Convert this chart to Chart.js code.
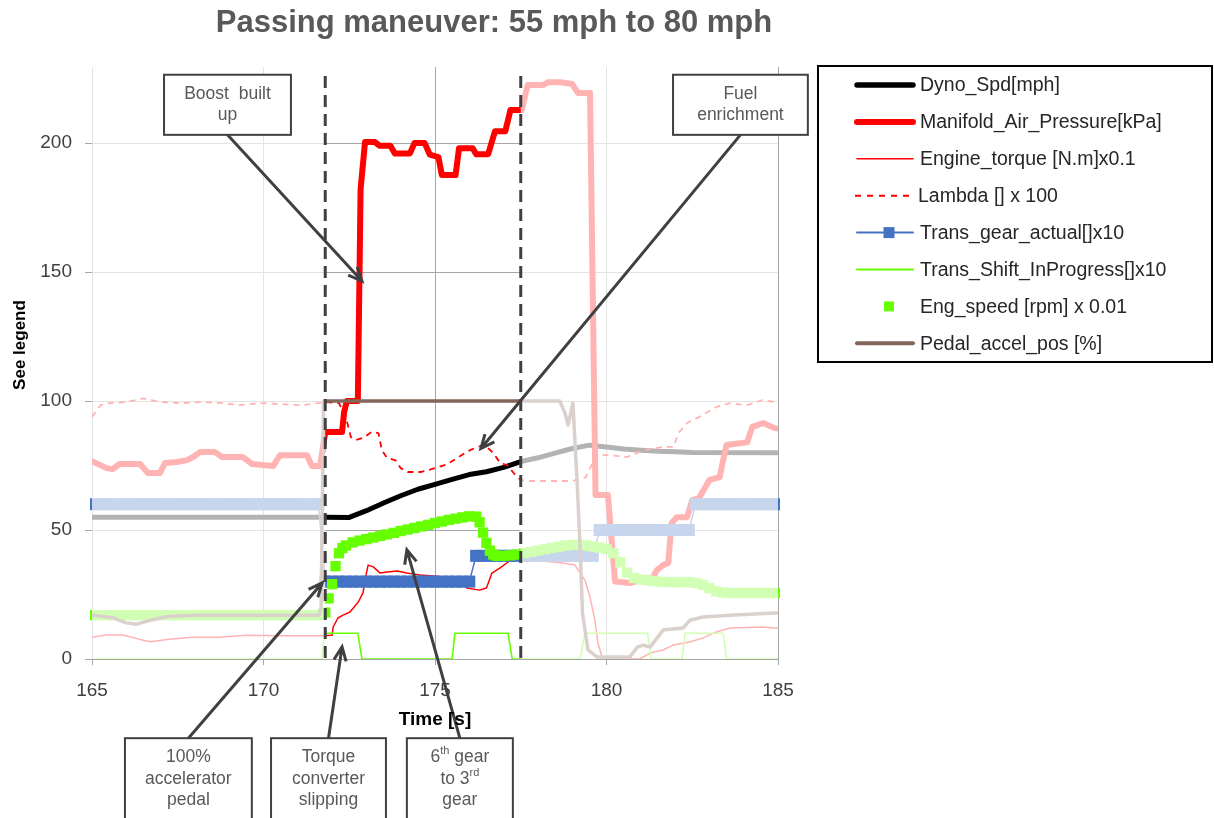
<!DOCTYPE html>
<html>
<head>
<meta charset="utf-8">
<title>Passing maneuver: 55 mph to 80 mph</title>
<script src="https://cdn.jsdelivr.net/npm/chart.js@4.4.1/dist/chart.umd.min.js"></script>
<style>
  html, body { margin: 0; padding: 0; background: #fff; }
  canvas { display: block; }
</style>
</head>
<body>
<canvas id="passChart" width="1214" height="818"></canvas>
<script>
// ---- data ----
const chartTitle = 'Passing maneuver: 55 mph to 80 mph';
const seriesNames = [
    'Dyno_Spd[mph]',
    'Manifold_Air_Pressure[kPa]',
    'Engine_torque [N.m]x0.1',
    'Lambda [] x 100',
    'Trans_gear_actual[]x10',
    'Trans_Shift_InProgress[]x10',
    'Eng_speed [rpm] x 0.01',
    'Pedal_accel_pos [%]'
];
const yTicks = [0, 50, 100, 150, 200];
const windowStart = 171.8;   // highlighted part of the run
const windowEnd = 177.5;

const dynoTime = [165, 171.8, 172.5, 173, 173.5, 174, 174.5, 175, 175.5, 176, 176.5, 177, 177.5,
    178, 178.5, 179, 179.5, 180, 180.5, 181, 181.5, 182, 182.5, 185];
const dynoSpd = [55, 55, 54.9, 57.5, 60.5, 63.3, 65.8, 67.7, 69.6, 71.5, 72.6, 74.3, 76.5,
    78, 79.8, 81.6, 82.9, 82.2, 81.4, 80.9, 80.5, 80.3, 80.1, 80];

const mapTime = [165, 165.43, 165.6, 165.8, 166.4, 166.63, 166.98, 167.13, 167.47, 167.77, 167.95, 168.15,
    168.59, 168.79, 169.4, 169.66, 170.28, 170.48, 171.27, 171.41, 171.65, 171.8, 172.29, 172.35, 172.43,
    172.75, 172.8, 172.83, 172.96, 173.25, 173.38, 173.7, 173.83, 174.27, 174.4, 174.7, 174.85, 175.1,
    175.2, 175.6, 175.7, 176.1, 176.2, 176.55, 176.75, 177.05, 177.2, 177.53, 177.7, 178.15, 178.3,
    178.65, 179.0, 179.17, 179.52, 179.68, 180.04, 180.25, 180.7, 181.36, 181.47, 181.65, 181.8, 181.9,
    182.05, 182.35, 182.5, 182.7, 183.0, 183.3, 183.4, 183.5, 184.1, 184.25, 184.57, 184.9, 185];
const mapKpa = [76.7, 74, 73.6, 75.6, 75.6, 72.1, 72.1, 76, 76.4, 77.1, 78.3, 80.2,
    80.2, 78.3, 78.3, 75.6, 74.8, 79, 79, 74.8, 74.8, 88, 88, 95.7, 100,
    100, 150, 182, 200.4, 200.4, 199, 199, 196, 196, 200, 200, 195.5, 194.6,
    187.6, 187.6, 198, 198, 195.7, 195.7, 204.6, 204.6, 212.8, 212.8, 222.5, 222.5, 223.6,
    223.6, 222.9, 219.4, 219.4, 63.6, 63.6, 30, 29.5, 31.8, 34.5, 36.4, 37.2, 52.7,
    55, 55, 61.6, 62.4, 69.4, 70.5, 77, 83, 84, 90, 91.5, 89.5, 89.3];

const torqueTime = [165, 165.4, 165.9, 166.4, 166.7, 167.2, 167.9, 168.7, 169.5, 170.5, 171.65, 172.0,
    172.03, 172.17, 172.32, 172.52, 172.76, 172.9, 173.0, 173.05, 173.2, 173.4, 173.6, 173.9, 174.18,
    174.56, 174.94, 175.4, 175.82, 175.93, 176.3, 176.5, 176.66, 176.9, 177.13, 177.33, 177.48, 177.77,
    178.73, 179.08, 179.37, 179.52, 179.66, 179.75, 179.87, 180.0, 180.97, 181.27, 181.65, 181.94,
    182.43, 182.8, 183.2, 183.6, 184.56, 184.9, 185];
const torque = [8.4, 9.3, 9.3, 7.6, 6.7, 7.6, 8.4, 8.4, 9.2, 9, 9, 9.2,
    12.4, 15.9, 17, 18.2, 22, 25.6, 33.3, 36.4, 35.7, 33.3, 33.7, 34.1, 33.3,
    32.6, 32.2, 31.6, 30.6, 27.5, 26.7, 27.5, 33.3, 35.3, 37.6, 39.5, 40.3, 38.5,
    37.2, 36.4, 30.6, 24, 15, 6.2, 0.8, 0, 0, 2.3, 3.5, 5.4,
    6.6, 8.1, 10.5, 12, 12.4, 12, 12];

const lambdaTime = [165, 165.25, 165.5, 166.0, 166.5, 167.0, 167.6, 168.2, 168.8, 169.3, 169.9, 170.5,
    171.1, 171.6, 171.8, 172.2, 172.4, 172.55, 172.7, 172.9, 173.15, 173.35, 173.45, 173.6, 173.85,
    174.0, 174.2, 174.6, 175.0, 175.35, 175.6, 175.95, 176.2, 176.45, 176.7, 176.9, 177.1, 177.3, 177.5,
    177.8, 179.0, 179.4, 179.7, 180.1, 180.6, 181.1, 181.65, 181.95, 182.1, 182.35, 182.7, 183.2,
    183.6, 184.1, 184.55, 184.9, 185];
const lambda = [93.8, 98.4, 99.2, 99.6, 101, 99.6, 99.2, 99.6, 99.2, 98.4, 99.2, 98.8,
    98.4, 99.2, 99.6, 99.2, 93.8, 86, 84.9, 85.7, 88, 87.6, 81, 78, 77,
    74, 72.5, 72.5, 74, 75.5, 77.5, 80.5, 82, 83, 79.8, 76, 75.2, 72, 69.4,
    69, 69, 70.5, 79, 79, 78.3, 81, 82.2, 82.2, 87.6, 91.5, 93.8, 97.7,
    99.2, 98.4, 100.4, 99.6, 99.6];

// logged every 0.2 s
const gearTime = sampleTimes(165, 185, 0.2);
const gearActual = [
    60, 60, 60, 60, 60, 60, 60, 60, 60, 60, 60, 60, 60, 60, 60, 60, 60,
    60, 60, 60, 60, 60, 60, 60, 60, 60, 60, 60, 60, 60, 60, 60, 60, 60,
    30, 30, 30, 30, 30, 30, 30, 30, 30, 30, 30, 30, 30, 30, 30, 30, 30, 30, 30, 30, 30, 30,
    40, 40, 40, 40, 40, 40, 40, 40, 40, 40, 40, 40, 40, 40, 40, 40, 40, 40,
    50, 50, 50, 50, 50, 50, 50, 50, 50, 50, 50, 50, 50, 50,
    60, 60, 60, 60, 60, 60, 60, 60, 60, 60, 60, 60, 60
];

const shiftTime = [165, 171.7, 171.78, 172.75, 172.87, 175.5, 175.58, 177.13, 177.25, 179.23, 179.37,
    181.2, 181.3, 182.2, 182.29, 183.4, 183.5, 185];
const shiftFlag = [0, 0, 10, 10, 0, 0, 10, 10, 0, 0, 10, 10, 0, 0, 10, 10, 0, 0];

// engine speed samples, denser where it moves quickly
const engTime = [
    ...sampleTimes(165, 171.6, 0.2),
    ...sampleTimes(171.7, 172.4, 0.1),
    ...sampleTimes(172.6, 176.2, 0.2),
    ...sampleTimes(176.3, 176.7, 0.1),
    ...sampleTimes(176.8, 185, 0.2)
];
const engSpeed = [
    17, 17, 17, 17, 17, 17, 17, 17, 17, 17, 17, 17, 17, 17, 17, 17, 17,
    17, 17, 17, 17, 17, 17, 17, 17, 17, 17, 17, 17, 17, 17, 17, 17, 17,
    17.5, 18, 23.5, 29, 36, 41, 43, 44,
    45.2, 45.9, 46.5, 47.1, 47.7, 48.3, 48.9, 49.6, 50.2, 50.8, 51.4, 52, 52.7, 53.3, 53.9, 54.4, 54.9, 55.3, 55.2,
    53, 49, 45, 42, 40.5,
    40, 40, 40.2, 40.5, 41, 41.5, 42, 42.5, 43, 43.5, 44, 44.2, 44.3, 44, 43.6, 43.2, 42.6, 41, 37.5, 33.5,
    31.4, 30.8, 30.5, 30.2, 29.9, 29.8, 29.8, 29.8, 29.8, 29.5, 28.7, 27.5, 26.2, 25.8, 25.6, 25.6,
    25.6, 25.6, 25.6, 25.6, 25.6, 25.6
];

const pedalTime = [165, 165.6, 166.0, 166.3, 166.7, 167.2, 168, 171.62, 171.68, 171.75, 178.64, 178.79,
    178.88, 179.02, 179.14, 179.23, 179.3, 179.46, 179.72, 180.68, 180.9, 181.07, 181.27, 181.65,
    182.23, 182.43, 182.81, 183.6, 184.9, 185];
const pedalPos = [17, 16, 14, 13.5, 15, 16.5, 17, 17, 20, 100, 100, 95.3,
    90.7, 99.2, 69.4, 43.4, 17.8, 3.5, 0.8, 0.8, 4.6, 5.4, 4.6, 11.2,
    12, 15, 16.3, 17, 17.8, 17.8];

// callout boxes: box = [t0, t1, yTop, yBottom] in axis units, arrow points at tip
const callouts = [
    { lines: [['Boost  built'], ['up']], box: [167.1, 170.8, 226.5, 203.2], tip: [172.87, 146.5] },
    { lines: [['Fuel'], ['enrichment']], box: [181.94, 185.87, 226.5, 203.2], tip: [176.34, 81.6] },
    { lines: [['100%'], ['accelerator'], ['pedal']], box: [165.96, 169.66, -30.7, -66.4], tip: [171.71, 29.5] },
    { lines: [['Torque'], ['converter'], ['slipping']], box: [170.22, 173.57, -30.7, -66.4], tip: [172.29, 4.7] },
    { lines: [['6', { sup: 'th' }, ' gear'], ['to 3', { sup: 'rd' }], ['gear']], box: [174.18, 177.27, -30.7, -66.4], tip: [174.18, 42.3] }
];

function sampleTimes(from, to, step) {
    const out = [];
    const n = Math.round((to - from) / step);
    for (let i = 0; i <= n; i++) out.push(Math.round((from + i * step) * 100) / 100);
    return out;
}

function pairs(times, values) {
    return times.map((t, i) => ({ x: t, y: values[i] }));
}

const RED = '#ff0000';
const BLUE = '#4472c4';
const LIME = '#66ff00';
const BROWN = '#836559';
const FONT = '"Liberation Sans", Arial, sans-serif';

Chart.defaults.font.family = FONT;

const legendLook = [
    { color: '#000', width: 5.5 },
    { color: RED, width: 6 },
    { color: RED, width: 1.5 },
    { color: RED, width: 2, dash: [6, 6] },
    { color: BLUE, width: 2, marker: 11 },
    { color: LIME, width: 2 },
    { color: LIME, width: 0, marker: 10 },
    { color: BROWN, width: 4 }
];

function drawArrow(ctx, x0, y0, x1, y1) {
    const ang = Math.atan2(y1 - y0, x1 - x0);
    const len = 15, spread = 0.42;
    ctx.beginPath();
    ctx.moveTo(x0, y0);
    ctx.lineTo(x1, y1);
    ctx.moveTo(x1 - len * Math.cos(ang - spread), y1 - len * Math.sin(ang - spread));
    ctx.lineTo(x1, y1);
    ctx.lineTo(x1 - len * Math.cos(ang + spread), y1 - len * Math.sin(ang + spread));
    ctx.stroke();
}

// one text line, may contain superscript parts
function drawRichLine(ctx, parts, cx, cy) {
    const base = '17.5px ' + FONT, small = '11px ' + FONT;
    let total = 0;
    parts.forEach(p => {
        ctx.font = typeof p === 'string' ? base : small;
        total += ctx.measureText(typeof p === 'string' ? p : p.sup).width;
    });
    let x = cx - total / 2;
    ctx.textAlign = 'left';
    parts.forEach(p => {
        if (typeof p === 'string') {
            ctx.font = base;
            ctx.fillText(p, x, cy);
            x += ctx.measureText(p).width;
        } else {
            ctx.font = small;
            ctx.fillText(p.sup, x, cy - 6);
            x += ctx.measureText(p.sup).width;
        }
    });
}

const passExtras = {
    id: 'passExtras',
    afterDatasetsDraw(chart) {
        const { ctx, chartArea: a, scales: { x } } = chart;
        const xl = x.getPixelForValue(windowStart);
        const xr = x.getPixelForValue(windowEnd);
        ctx.save();
        // fade everything outside the highlighted window
        ctx.fillStyle = 'rgba(255,255,255,0.7)';
        ctx.fillRect(a.left, a.top, xl - a.left, a.bottom - a.top);
        ctx.fillRect(xr, a.top, a.right - xr, a.bottom - a.top);
        ctx.strokeStyle = '#404040';
        ctx.lineWidth = 3;
        ctx.setLineDash([12, 7]);
        [xl, xr].forEach(px => {
            ctx.beginPath();
            ctx.moveTo(px, a.top + 9);
            ctx.lineTo(px, a.bottom);
            ctx.stroke();
        });
        ctx.restore();
    },
    afterDraw(chart) {
        const { ctx, scales: { x, y } } = chart;
        ctx.save();

        // callouts
        callouts.forEach(c => {
            const left = x.getPixelForValue(c.box[0]);
            const right = x.getPixelForValue(c.box[1]);
            const top = y.getPixelForValue(c.box[2]);
            const bottom = y.getPixelForValue(c.box[3]);
            const tipX = x.getPixelForValue(c.tip[0]);
            const tipY = y.getPixelForValue(c.tip[1]);
            const cx = (left + right) / 2;
            const startY = tipY > bottom ? bottom : top;
            ctx.strokeStyle = '#404040';
            ctx.lineWidth = 3;
            drawArrow(ctx, cx, startY, tipX, tipY);
            ctx.fillStyle = '#fff';
            ctx.fillRect(left, top, right - left, bottom - top);
            ctx.lineWidth = 2;
            ctx.strokeRect(left, top, right - left, bottom - top);
            ctx.fillStyle = '#595959';
            ctx.textBaseline = 'middle';
            c.lines.forEach((parts, i) => drawRichLine(ctx, parts, cx, top + 19 + i * 21.5));
        });

        // legend box
        ctx.lineWidth = 2;
        ctx.strokeStyle = '#000';
        ctx.strokeRect(818, 66, 394, 296);
        seriesNames.forEach((name, i) => {
            const cy = 85 + i * 36.9;
            const look = legendLook[i];
            if (look.width > 0) {
                ctx.beginPath();
                ctx.strokeStyle = look.color;
                ctx.lineWidth = look.width;
                ctx.lineCap = look.dash ? 'butt' : 'round';
                ctx.setLineDash(look.dash || []);
                ctx.moveTo(look.dash ? 855 : 857, cy);
                ctx.lineTo(look.dash ? 912 : 913, cy);
                ctx.stroke();
                ctx.setLineDash([]);
            }
            if (look.marker) {
                ctx.fillStyle = look.color;
                ctx.fillRect(889 - look.marker / 2, cy - look.marker / 2, look.marker, look.marker);
            }
            ctx.fillStyle = '#262626';
            ctx.font = '19.5px ' + FONT;
            ctx.textAlign = 'left';
            ctx.textBaseline = 'middle';
            ctx.fillText(name, look.dash ? 918 : 920, cy + 1);
        });

        // titles
        ctx.fillStyle = '#595959';
        ctx.font = 'bold 31px ' + FONT;
        ctx.textAlign = 'center';
        ctx.textBaseline = 'alphabetic';
        ctx.fillText(chartTitle, 494, 32);

        ctx.fillStyle = '#000';
        ctx.font = 'bold 19px ' + FONT;
        ctx.textBaseline = 'middle';
        ctx.fillText('Time [s]', 435, 720);

        ctx.translate(20, 345);
        ctx.rotate(-Math.PI / 2);
        ctx.font = 'bold 17px ' + FONT;
        ctx.fillText('See legend', 0, 0);
        ctx.restore();
    }
};

const lineBase = { pointRadius: 0, tension: 0, borderJoinStyle: 'round', borderCapStyle: 'round', fill: false };

new Chart(document.getElementById('passChart'), {
    type: 'line',
    data: {
        datasets: [
            { ...lineBase, label: seriesNames[0], data: pairs(dynoTime, dynoSpd), borderColor: '#000', borderWidth: 5, order: 8 },
            { ...lineBase, label: seriesNames[1], data: pairs(mapTime, mapKpa), borderColor: RED, borderWidth: 6, order: 7 },
            { ...lineBase, label: seriesNames[2], data: pairs(torqueTime, torque), borderColor: RED, borderWidth: 1.5, order: 6 },
            { ...lineBase, label: seriesNames[3], data: pairs(lambdaTime, lambda), borderColor: RED, borderWidth: 1.8, borderDash: [6, 5], borderCapStyle: 'butt', order: 5 },
            {
                label: seriesNames[4], data: pairs(gearTime, gearActual), borderColor: BLUE, borderWidth: 1.5,
                pointStyle: 'rect', pointRadius: 8.5, pointBorderWidth: 0, pointBackgroundColor: BLUE,
                tension: 0, clip: 2, order: 4
            },
            { ...lineBase, label: seriesNames[5], data: pairs(shiftTime, shiftFlag), borderColor: LIME, borderWidth: 1.6, order: 3 },
            {
                label: seriesNames[6], data: pairs(engTime, engSpeed), showLine: false,
                pointStyle: 'rect', pointRadius: 7.3, pointBorderWidth: 0, pointBackgroundColor: LIME,
                clip: 2, order: 2
            },
            { ...lineBase, label: seriesNames[7], data: pairs(pedalTime, pedalPos), borderColor: BROWN, borderWidth: 3.5, order: 1 }
        ]
    },
    options: {
        responsive: false,
        animation: false,
        devicePixelRatio: 1,
        events: [],
        layout: { padding: { top: 67, right: 436, left: 0, bottom: 0 } },
        plugins: {
            legend: { display: false },
            tooltip: { enabled: false },
            title: { display: false }
        },
        scales: {
            x: {
                type: 'linear',
                min: 165,
                max: 185,
                ticks: { stepSize: 5, color: '#404040', font: { size: 19 }, padding: 14, maxRotation: 0 },
                grid: { color: '#a6a6a6', tickColor: '#a6a6a6', tickLength: 6 },
                border: { display: false },
                afterFit: scale => { scale.height = 159; }
            },
            y: {
                min: 0,
                max: 229.5,
                afterBuildTicks: scale => { scale.ticks = yTicks.map(v => ({ value: v })); },
                ticks: { color: '#404040', font: { size: 19 }, padding: 13 },
                grid: { color: '#a6a6a6', tickColor: '#a6a6a6', tickLength: 7 },
                border: { display: false },
                afterFit: scale => { scale.width = 92; }
            }
        }
    },
    plugins: [passExtras]
});
</script>
</body>
</html>
